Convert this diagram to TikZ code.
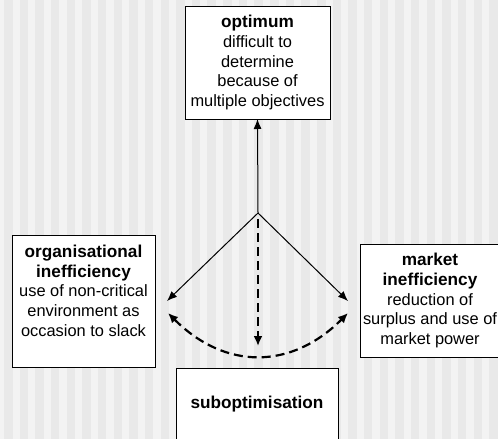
\documentclass[tikz,border=0pt]{standalone}
\usepackage{fontspec}
\setmainfont{Liberation Sans}
\usetikzlibrary{arrows.meta}
\usetikzlibrary{calc,positioning}

\definecolor{stripeLight}{RGB}{243,243,243}
\definecolor{stripeDark}{RGB}{233,233,233}

\begin{document}
\begin{tikzpicture}[x=1bp,y=-1bp]
    \def\stripeWidth{15.65}
    \def\head#1{{\fontsize{17.2bp}{20bp}\selectfont\bfseries #1}}

    \tikzstyle{box}=[draw,fill=white,line width=0.8bp,outer sep=0pt,inner sep=3bp,
    align=center,font=\fontsize{16.4bp}{19.6bp}\selectfont]
    \tikzstyle{link}=[-{Latex[length=10bp,width=8bp]},line width=1bp]
    \tikzstyle{slack}=[line width=2.2bp,dash pattern=on 9bp off 5bp]

    % Background
    \useasboundingbox (0,0) rectangle (498,439);
    \clip (0,0) rectangle (498,439);
    \fill[stripeLight] (0,0) rectangle (498,439);
    \foreach \i in {0,...,31}
      \fill[stripeDark] ({4+\i*\stripeWidth},0) rectangle ++(8.5,439);

    % Boxes
    \node[box,anchor=north west,minimum width=145bp,minimum height=113bp] (optimum) at (185,6)
    {\head{optimum}\\ difficult to\\ determine\\ because of\\ multiple objectives};
    \node[box,anchor=north west,minimum width=143bp,minimum height=132bp] (orgineff) at (12,235)
    {\head{organisational}\\ \head{inefficiency}\\ use of non-critical\\ environment as\\ occasion to slack\\[1bp]~};
    \node[box,anchor=north west,minimum width=137bp,minimum height=113bp] (mktineff) at (360,244)
    {\head{market}\\ \head{inefficiency}\\ reduction of\\ surplus and use of\\ market power};
    \node[box,anchor=north west,minimum width=162bp,minimum height=72bp] (subopt) at (176,368)
    {\head{suboptimisation}};

    % Arrows
    \coordinate (hub) at (258,213);
    \coordinate (orgtip) at (167,301);
    \coordinate (mkttip) at (348,301);
    \coordinate (orgarc) at (168,313);
    \coordinate (mktarc) at (348,313);
    \coordinate (subtip) at (258,346);

    \draw[link] (hub) -- (optimum.south);
    \draw[link] (hub) -- (orgtip);
    \draw[link] (hub) -- (mkttip);
    \draw[slack,-{Latex[length=10bp,width=9bp]}] ($(hub)+(0,6)$) -- (subtip);
    \draw[slack,{Latex[length=10bp,width=9bp]}-{Latex[length=10bp,width=9bp]}] (orgarc)
    .. controls (225,370) and (291,370) .. (mktarc);
\end{tikzpicture}
\end{document}
